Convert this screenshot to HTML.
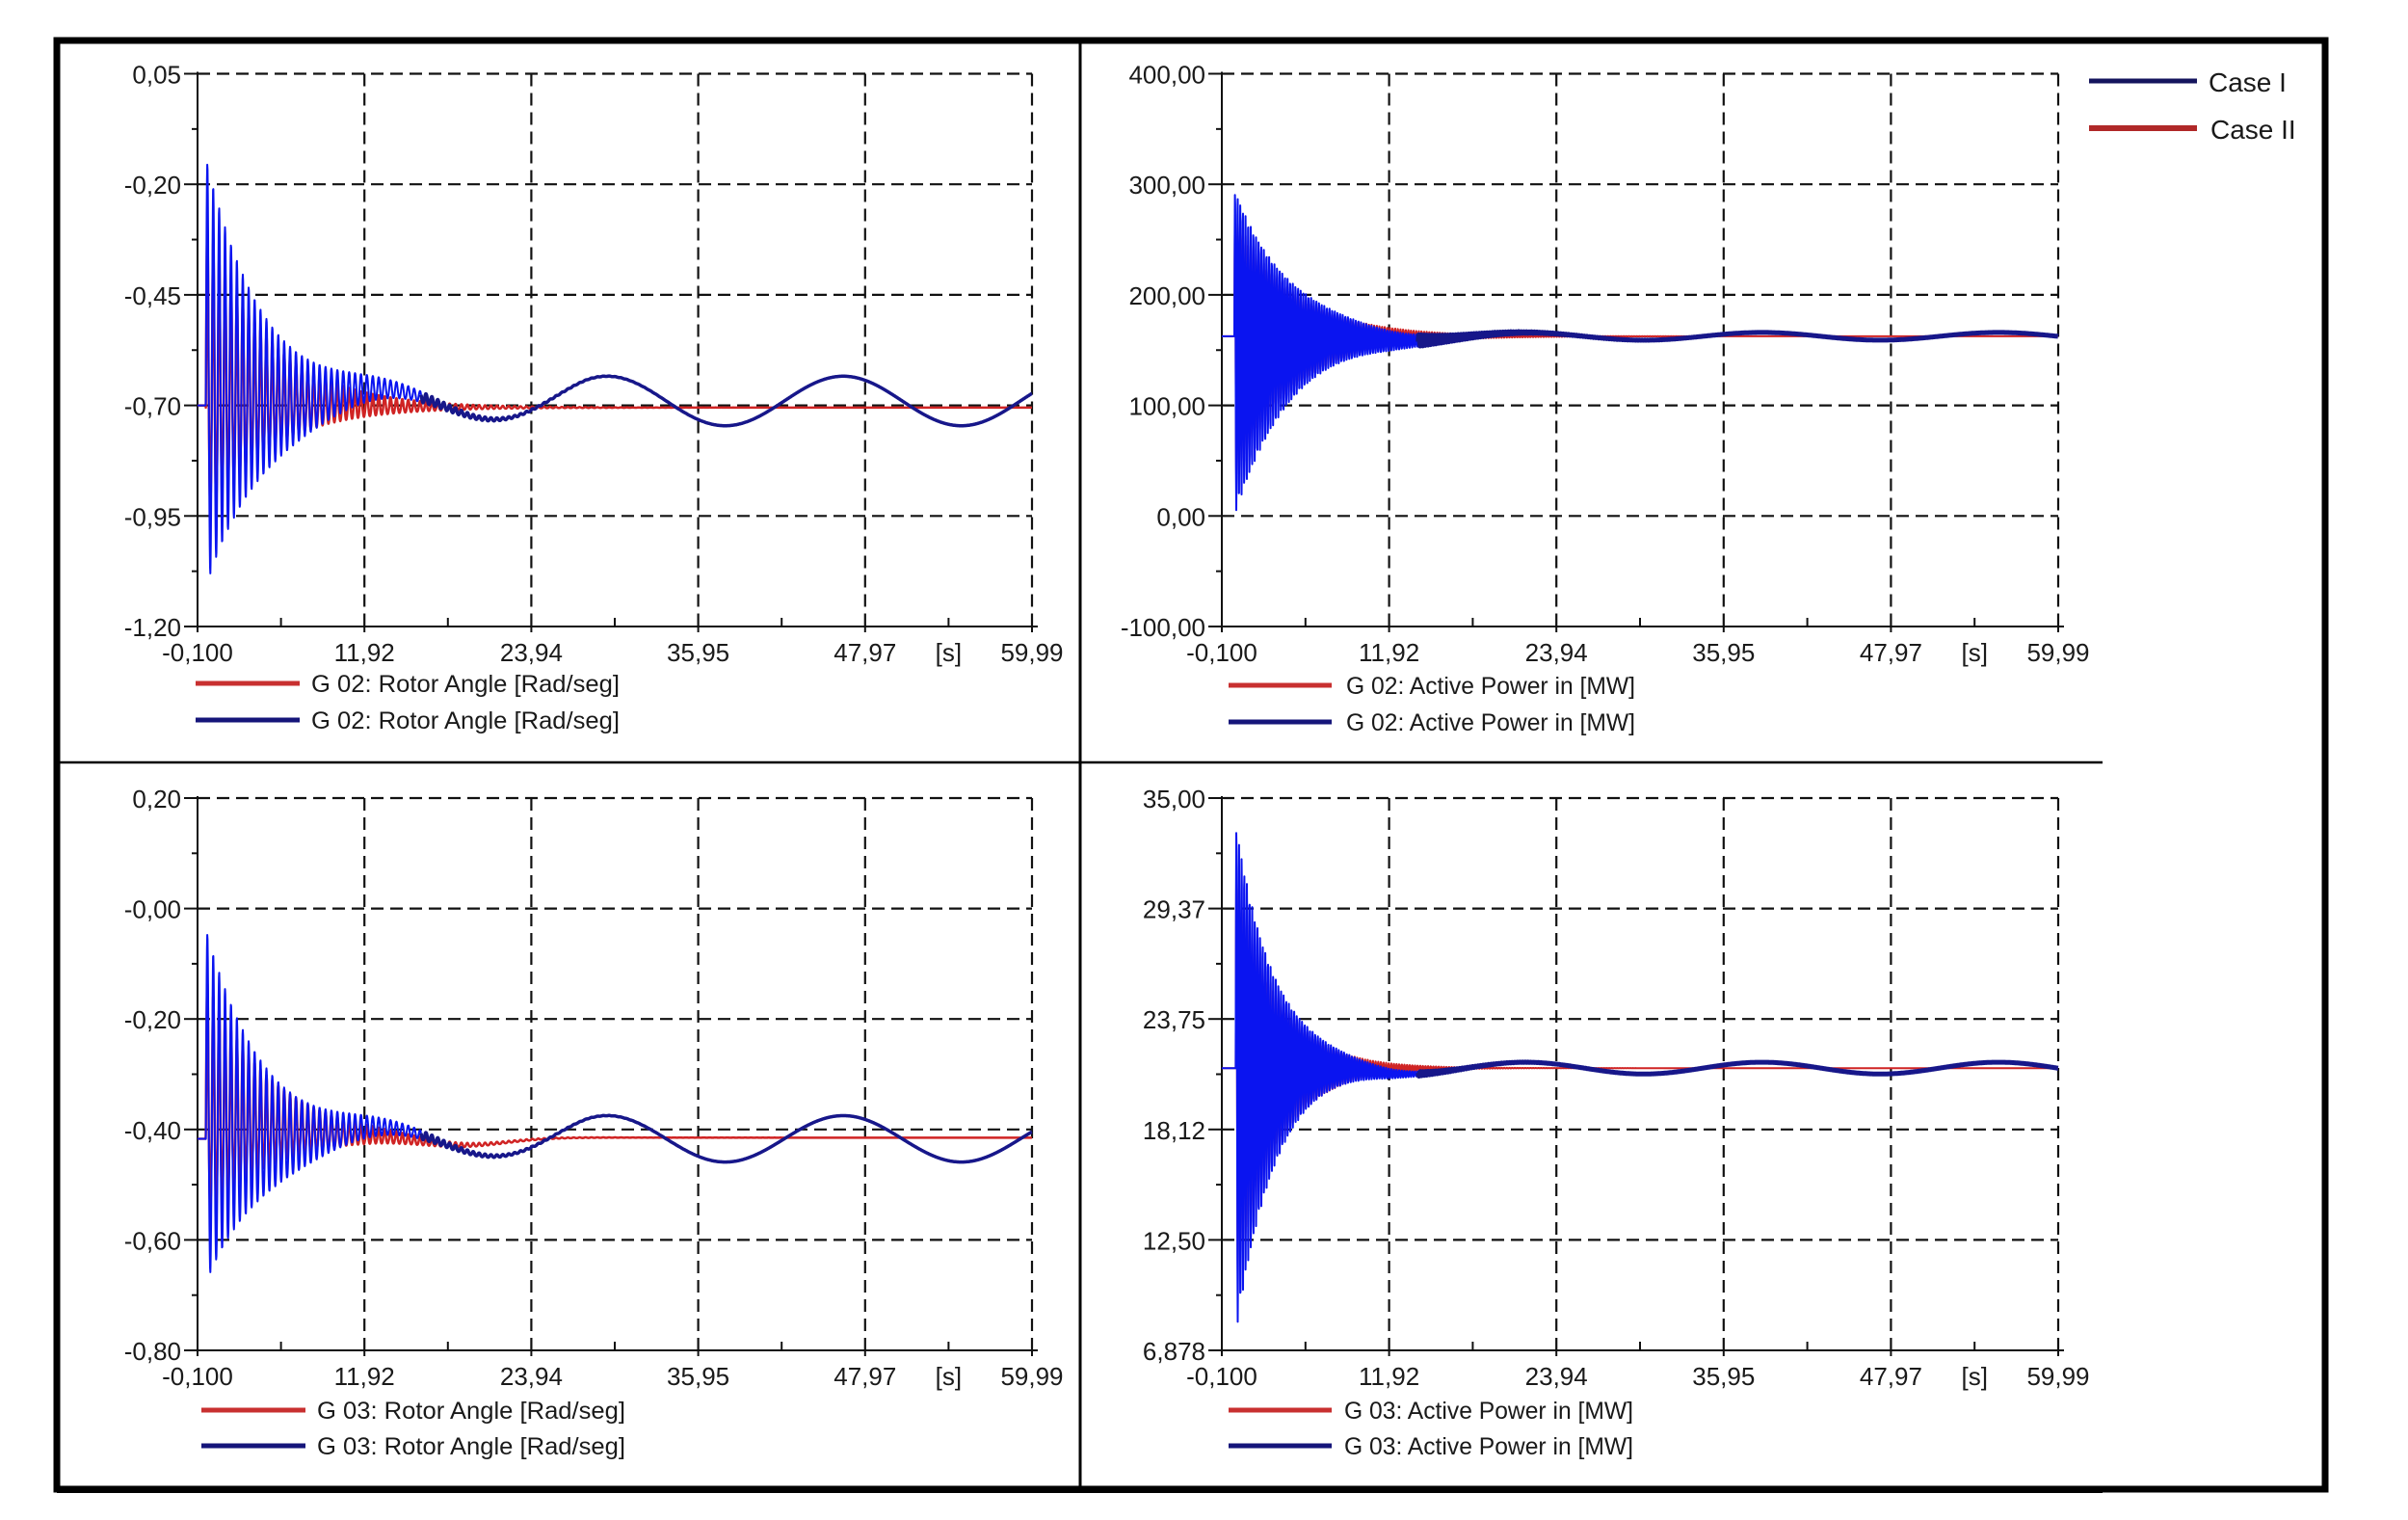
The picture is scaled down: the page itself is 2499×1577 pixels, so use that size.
<!DOCTYPE html>
<html><head><meta charset="utf-8">
<style>
html,body{margin:0;padding:0;background:#fff;}
svg{display:block;}
text{font-family:"Liberation Sans",Arial,sans-serif;fill:#1a1a1a;}
</style></head>
<body>
<svg id="s" width="2499" height="1577" viewBox="0 0 2499 1577" xmlns="http://www.w3.org/2000/svg">
<rect x="0" y="0" width="2499" height="1577" fill="#fff"/>
<rect x="59" y="42" width="2354" height="1503" fill="none" stroke="#000" stroke-width="7"/>
<line x1="59" y1="1546" x2="2182" y2="1546" stroke="#000" stroke-width="6"/>
<line x1="1121" y1="42" x2="1121" y2="1545" stroke="#000" stroke-width="3"/>
<line x1="62" y1="791" x2="2182" y2="791" stroke="#000" stroke-width="2.5"/>
<line x1="2168" y1="84" x2="2280" y2="84" stroke="#15155e" stroke-width="5"/>
<line x1="2168" y1="133" x2="2280" y2="133" stroke="#b02828" stroke-width="6"/>
<text x="2292" y="95" font-size="28">Case I</text>
<text x="2294" y="144" font-size="28">Case II</text>
<g id="plots"></g>
</svg>
<script>
(function(){
var NS="http://www.w3.org/2000/svg";
var G=document.getElementById("plots");
function el(n,a,t){var e=document.createElementNS(NS,n);for(var k in a)e.setAttribute(k,a[k]);if(t!==undefined)e.textContent=t;G.appendChild(e);return e;}
var xl=["-0,100","11,92","23,94","35,95","47,97","59,99"];
function plot(c){
  var X0=c.X0,X1=c.X1,YT=c.YT,YB=c.YB;
  var W=X1-X0,H=YB-YT;
  function px(t){return X0+(t+0.1)/60.09*W;}
  function py(v){return YB-(v-c.vmin)/(c.vmax-c.vmin)*H;}
  var n=c.yl.length;
  for(var i=1;i<n;i++){var y=YT+H*(n-1-i)/(n-1);
    el("line",{x1:X0,y1:y,x2:X1,y2:y,stroke:"#111","stroke-width":2.2,"stroke-dasharray":"13 7"});}
  for(var j=1;j<=5;j++){var x=X0+W*j/5;
    el("line",{x1:x,y1:YT,x2:x,y2:YB,stroke:"#111","stroke-width":2.2,"stroke-dasharray":"13 7"});}
  el("line",{x1:X0,y1:YT-2,x2:X0,y2:YB,stroke:"#111","stroke-width":2});
  el("line",{x1:X0,y1:YB,x2:X1+6,y2:YB,stroke:"#111","stroke-width":2});
  for(var i=0;i<n;i++){var y=YB-H*i/(n-1);
    el("line",{x1:X0-14,y1:y,x2:X0,y2:y,stroke:"#111","stroke-width":2});
    if(i<n-1){var ym=y-H/(n-1)/2;el("line",{x1:X0-6,y1:ym,x2:X0,y2:ym,stroke:"#111","stroke-width":2});}
    el("text",{x:X0-17,y:y+10,"font-size":26,"text-anchor":"end"},c.yl[i]);}
  for(var j=0;j<=5;j++){var x=X0+W*j/5;
    el("line",{x1:x,y1:YB,x2:x,y2:YB+6,stroke:"#111","stroke-width":2});
    if(j<5){var xm=x+W/10;el("line",{x1:xm,y1:YB-9,x2:xm,y2:YB,stroke:"#111","stroke-width":2});}
    el("text",{x:x,y:YB+36,"font-size":26,"text-anchor":"middle"},xl[j]);}
  el("text",{x:X0+W*0.9,y:YB+36,"font-size":26,"text-anchor":"middle"},"[s]");
  c.series.forEach(function(s){
    var d1="",d2="",last="";
    for(var t=-0.1;t<=59.99;t+=0.02){
      var v=s.f(t);if(v>c.vmax)v=c.vmax;if(v<c.vmin)v=c.vmin;
      var seg=px(t).toFixed(1)+","+py(v).toFixed(1);
      if(t<s.split){d1+=(d1?"L":"M")+seg;last=seg;} else {d2+=(d2?"L":"M"+(last?last+"L":""))+seg;}
    }
    if(d1) el("path",{d:d1,fill:"none",stroke:s.c1,"stroke-width":s.w1,"stroke-linejoin":"round"});
    if(d2) el("path",{d:d2,fill:"none",stroke:s.c2,"stroke-width":s.w2,"stroke-linejoin":"round"});
  });
  var L=c.leg;
  el("line",{x1:L.x1,y1:L.y1,x2:L.x2,y2:L.y1,stroke:"#c83030","stroke-width":5});
  el("line",{x1:L.x1,y1:L.y2,x2:L.x2,y2:L.y2,stroke:"#15157a","stroke-width":5});
  el("text",{x:L.tx,y:L.y1+9,"font-size":25,textLength:L.tl,lengthAdjust:"spacingAndGlyphs"},L.txt);
  el("text",{x:L.tx,y:L.y2+9,"font-size":25,textLength:L.tl,lengthAdjust:"spacingAndGlyphs"},L.txt);
}
function fast(t,t0,f,au,ad,tau){if(t<t0)return 0;var e=Math.exp(-(t-t0)/tau);var s=Math.sin(2*Math.PI*f*(t-t0));return s>0?au*e*s:ad*e*s;}
function slow(t,tp,a){return a*Math.cos(2*Math.PI*(t-tp)/17);}
function ramp(t,T){return Math.max(0,Math.min(1,t/T));}
var RED="#d02424",BB="#0a14f0",NV="#17178a";
plot({X0:205,X1:1071,YT:76.5,YB:650,vmin:-1.2,vmax:0.05,yl:["-1,20","-0,95","-0,70","-0,45","-0,20","0,05"],
 leg:{x1:203,x2:311,y1:709,y2:747,tx:323,tl:320,txt:"G 02:  Rotor Angle [Rad/seg]"},
 series:[
  {f:function(t){return t<0.5?-0.70:-0.705+fast(t,0.5,2.35,0.42,0.25,4.6);},split:99,c1:RED,w1:2.5,c2:RED,w2:3},
  {f:function(t){return t<0.5?-0.70:-0.69+slow(t,29.4,0.056)*ramp(t,28)+fast(t,0.5,2.35,0.55,0.42,4.2);},split:16,c1:BB,w1:2,c2:NV,w2:3.5}
 ]});
plot({X0:205,X1:1071,YT:828,YB:1401,vmin:-0.8,vmax:0.2,yl:["-0,80","-0,60","-0,40","-0,20","-0,00","0,20"],
 leg:{x1:209,x2:317,y1:1463,y2:1500,tx:329,tl:320,txt:"G 03:  Rotor Angle [Rad/seg]"},
 series:[
  {f:function(t){return t<0.5?-0.417:-0.415-0.015*Math.exp(-Math.pow(t-19,2)/20)+0.01*Math.exp(-t/8)+fast(t,0.5,2.35,0.28,0.15,4.6);},split:99,c1:RED,w1:2.5,c2:RED,w2:3},
  {f:function(t){return t<0.5?-0.417:-0.417+slow(t,29.4,0.042)*ramp(t,28)+fast(t,0.5,2.35,0.38,0.26,4.2);},split:16,c1:BB,w1:2,c2:NV,w2:3.5}
 ]});
plot({X0:1268,X1:2136,YT:76.5,YB:650,vmin:-100,vmax:400,yl:["-100,00","0,00","100,00","200,00","300,00","400,00"],
 leg:{x1:1275,x2:1382,y1:711,y2:749,tx:1397,tl:300,txt:"G 02:  Active Power in [MW]"},
 series:[
  {f:function(t){return 162.5+fast(t,0.8,5.3,110,130,4.2);},split:99,c1:RED,w1:2,c2:RED,w2:4},
  {f:function(t){return 162.5+slow(t,38.7,3.5)*ramp(t-2,10)+fast(t,0.8,5.3,133,163,4.0);},split:14,c1:BB,w1:2,c2:NV,w2:5}
 ]});
plot({X0:1268,X1:2136,YT:828,YB:1401,vmin:6.878,vmax:35,yl:["6,878","12,50","18,12","23,75","29,37","35,00"],
 leg:{x1:1275,x2:1382,y1:1463,y2:1500,tx:1395,tl:300,txt:"G 03:  Active Power in [MW]"},
 series:[
  {f:function(t){return 21.25+fast(t,0.9,5.3,10,11,3.0);},split:99,c1:RED,w1:2,c2:RED,w2:4},
  {f:function(t){return 21.25+slow(t,38.7,0.3)*ramp(t-2,10)+fast(t,0.9,5.3,12.5,13.6,2.8);},split:14,c1:BB,w1:2,c2:NV,w2:5}
 ]});
})();
</script>
</body></html>
